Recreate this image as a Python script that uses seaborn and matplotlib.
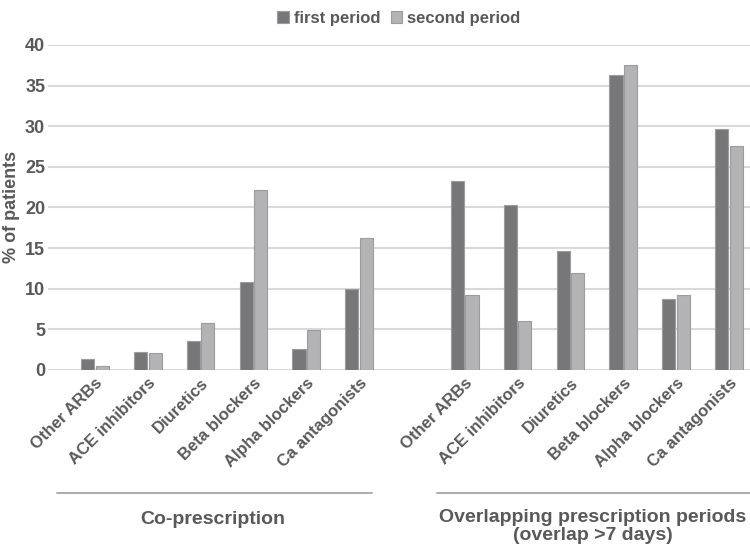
import pandas as pd
import numpy as np
import matplotlib.pyplot as plt
import seaborn as sns
from matplotlib.lines import Line2D

# values (% of patients)
drugs = ['Other ARBs', 'ACE inhibitors', 'Diuretics', 'Beta blockers',
         'Alpha blockers', 'Ca antagonists']
co_first = [1.35, 2.25, 3.5, 10.8, 2.6, 9.95]
co_second = [0.45, 2.05, 5.8, 22.2, 4.9, 16.2]
ov_first = [23.3, 20.3, 14.6, 36.3, 8.7, 29.7]
ov_second = [9.2, 6.0, 11.9, 37.5, 9.2, 27.5]
periods = ['first period', 'second period']
groups = ['Co-prescription', 'Overlapping prescription periods\n(overlap >7 days)']
yticks = [0, 5, 10, 15, 20, 25, 30, 35, 40]

text_col = '#595959'
colors = ['#76777a', '#b2b3b6']

sns.set_theme(style='white')
plt.rcParams['font.family'] = ['Liberation Sans', 'DejaVu Sans']
plt.rcParams['font.weight'] = 'bold'

rows = []
for i, d in enumerate(drugs):
    rows.append(('co|' + d, periods[0], co_first[i]))
    rows.append(('co|' + d, periods[1], co_second[i]))
    rows.append(('ov|' + d, periods[0], ov_first[i]))
    rows.append(('ov|' + d, periods[1], ov_second[i]))
df = pd.DataFrame(rows, columns=['slot', 'period', 'value'])
order = ['co|' + d for d in drugs] + ['gap'] + ['ov|' + d for d in drugs]

fig = plt.figure(figsize=(7.5, 5.48), dpi=100)
ax = fig.add_axes([0.064, 0.325, 0.936, 0.593])

sns.barplot(data=df, x='slot', y='value', hue='period', order=order,
            hue_order=periods, palette=colors, width=0.55, gap=0.1,
            edgecolor='#9c9c9e', linewidth=0.8, ax=ax, zorder=3)

ax.set_ylim(0, 40)
ax.set_yticks(yticks)
ax.set_xlim(-0.89, 12.4)
ax.yaxis.grid(True, color='#d9d9d9', linewidth=1.5, zorder=0)
ax.set_axisbelow(True)
for s in ax.spines.values():
    s.set_visible(False)

ax.set_xticks(range(len(order)))
ax.set_xticklabels(drugs + [''] + drugs, rotation=45, ha='right',
                   rotation_mode='anchor', fontsize=12, color=text_col,
                   fontweight='bold')
ax.tick_params(axis='x', length=0, pad=4)
ax.tick_params(axis='y', length=0, labelsize=13, labelcolor=text_col, pad=2)
for lab in ax.get_yticklabels():
    lab.set_fontweight('bold')
ax.set_xlabel('')
ax.set_ylabel('% of patients', fontsize=13, color=text_col, fontweight='bold')
ax.yaxis.set_label_coords(-0.04, 0.5)

leg = ax.legend(loc='upper center', bbox_to_anchor=(0.5, 1.125), ncol=2,
                frameon=False, fontsize=12, handlelength=0.7, handleheight=0.7,
                handletextpad=0.3, columnspacing=0.6, borderaxespad=0)
for t in leg.get_texts():
    t.set_color(text_col)
    t.set_fontweight('bold')

# group brackets below the tick labels
ly = 1 - 493 / 548
fig.add_artist(Line2D([57 / 750, 372 / 750], [ly, ly], color='#a6a6a6',
                      linewidth=1.3, transform=fig.transFigure))
fig.add_artist(Line2D([437 / 750, 750 / 750], [ly, ly], color='#a6a6a6',
                      linewidth=1.3, transform=fig.transFigure))
fig.text(213 / 750, 1 - 519 / 548, groups[0], ha='center', va='center',
         fontsize=14, color=text_col, fontweight='bold')
fig.text(593 / 750, 1 - 509 / 548, groups[1], ha='center', va='top',
         fontsize=14, color=text_col, fontweight='bold', linespacing=1.1)

fig.savefig('out.png', dpi=100)
